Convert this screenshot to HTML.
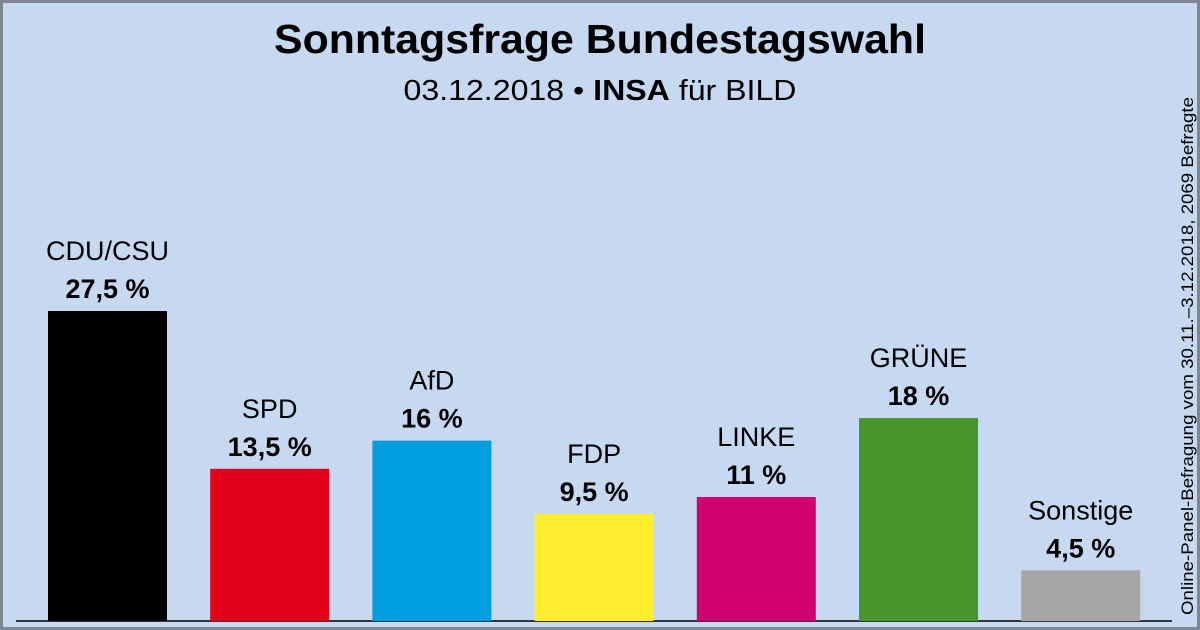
<!DOCTYPE html>
<html><head><meta charset="utf-8"><style>
body{margin:0;background:#c6d9f0;}
svg{display:block;font-family:"Liberation Sans",sans-serif;}
</style></head><body>
<svg id="c" width="1200" height="630">
<rect x="1.5" y="1.5" width="1197" height="627" fill="#c6d9f0" stroke="#7d8791" stroke-width="3"/>
<text x="600" y="53" font-size="41" font-weight="bold" text-anchor="middle" textLength="652" lengthAdjust="spacingAndGlyphs">Sonntagsfrage Bundestagswahl</text>
<text x="600" y="100" font-size="29" text-anchor="middle" textLength="393" lengthAdjust="spacingAndGlyphs">03.12.2018 • <tspan font-weight="bold">INSA</tspan> für BILD</text>
<text transform="translate(1193,356) rotate(-90)" font-size="17" text-anchor="middle" textLength="518" lengthAdjust="spacingAndGlyphs">Online-Panel-Befragung vom 30.11.–3.12.2018, 2069 Befragte</text>
<line x1="16" y1="621" x2="1172" y2="621" stroke="#000" stroke-width="1.5"/>
<g id="bars"></g>
</svg>
<script>
const parties=["CDU/CSU","SPD","AfD","FDP","LINKE","GRÜNE","Sonstige"];
const values=[27.5,13.5,16,9.5,11,18,4.5];
const labels=["27,5 %","13,5 %","16 %","9,5 %","11 %","18 %","4,5 %"];
const colors=["#000000","#e3001b","#009ee0","#ffed2f","#d0006f","#46962b","#a6a6a6"];
const base=621, scale=310/27.5;
const y=v=>base-v*scale;
const x=i=>48+i*162.2;
const g=document.getElementById('bars');
const ns="http://www.w3.org/2000/svg";
parties.forEach((p,i)=>{
  const r=document.createElementNS(ns,'rect');
  r.setAttribute('x',x(i));r.setAttribute('y',y(values[i]));
  r.setAttribute('width',119);r.setAttribute('height',base-y(values[i]));
  r.setAttribute('fill',colors[i]);
  
  
  g.appendChild(r);
  const t1=document.createElementNS(ns,'text');
  t1.setAttribute('x',x(i)+59.5);t1.setAttribute('y',y(values[i])-51);
  t1.setAttribute('font-size',27);t1.setAttribute('text-anchor','middle');
  t1.textContent=p;
  
  
  g.appendChild(t1);
  const t2=document.createElementNS(ns,'text');
  t2.setAttribute('x',x(i)+59.5);t2.setAttribute('y',y(values[i])-13);
  t2.setAttribute('font-size',27);t2.setAttribute('font-weight','bold');t2.setAttribute('text-anchor','middle');
  t2.textContent=labels[i];
  
  
  g.appendChild(t2);
});
</script>
</body></html>
